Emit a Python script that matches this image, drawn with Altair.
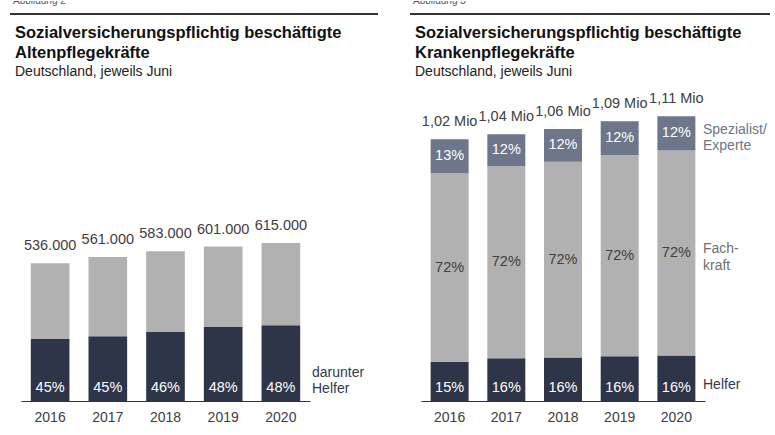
import altair as alt
import pandas as pd

FONT = "Liberation Sans, Arial, sans-serif"
NAVY = "#2e3549"
GRAY = "#b1b1b1"
SLATE = "#6d768a"
TEXT = "#404040"

# ---------------- data ----------------
years = ["2016", "2017", "2018", "2019", "2020"]

alten_total = [536000, 561000, 583000, 601000, 615000]
alten_helfer_pct = [45, 45, 46, 48, 48]

kranken_total = [1.02, 1.04, 1.06, 1.09, 1.11]  # Mio
kranken_helfer_pct = [15, 16, 16, 16, 16]
kranken_fach_pct = [72, 72, 72, 72, 72]
kranken_spez_pct = [13, 12, 12, 12, 12]

left_titles = ["Abbildung 2", "Sozialversicherungspflichtig beschäftigte", "Altenpflegekräfte", "Deutschland, jeweils Juni"]
right_titles = ["Abbildung 3", "Sozialversicherungspflichtig beschäftigte", "Krankenpflegekräfte", "Deutschland, jeweils Juni"]


def de_thousands(v):
    return f"{v:,}".replace(",", ".")


def de_mio(v):
    return f"{v:.2f}".replace(".", ",") + " Mio"


# ---------------- tables ----------------
rows = []
for y, t, p in zip(years, alten_total, alten_helfer_pct):
    h = t * p / 100
    rows.append(dict(year=y, seg="Helfer", y0=0, y1=h))
    rows.append(dict(year=y, seg="Rest", y0=h, y1=t))
alten_bars = pd.DataFrame(rows)
alten_tot = pd.DataFrame(dict(year=years, total=alten_total, label=[de_thousands(v) for v in alten_total]))
alten_pct = pd.DataFrame(dict(year=years, base=[0] * 5, label=[f"{p}%" for p in alten_helfer_pct]))

rows = []
for y, t, ph, pf, ps in zip(years, kranken_total, kranken_helfer_pct, kranken_fach_pct, kranken_spez_pct):
    a = t * ph / 100
    b = a + t * pf / 100
    rows.append(dict(year=y, seg="Helfer", y0=0, y1=a, mid=a / 2, label=f"{ph}%"))
    rows.append(dict(year=y, seg="Fachkraft", y0=a, y1=b, mid=(a + b) / 2, label=f"{pf}%"))
    rows.append(dict(year=y, seg="Spezialist", y0=b, y1=t, mid=(b + t) / 2, label=f"{ps}%"))
kranken_bars = pd.DataFrame(rows)
kranken_tot = pd.DataFrame(dict(year=years, total=kranken_total, label=[de_mio(v) for v in kranken_total]))
kranken_pct = kranken_bars.assign(base=0)


def label(txt, x, y, size=14, color=TEXT, weight="normal", baseline="alphabetic", clip=False):
    return alt.Chart(pd.DataFrame({"t": [txt]})).mark_text(
        font=FONT, fontSize=size, color=color, fontWeight=weight,
        baseline=baseline, align="left", clip=clip
    ).encode(text="t:N", x=alt.value(x), y=alt.value(y))


def header(titles, rule_x2):
    rule = alt.Chart(pd.DataFrame({"t": [0]})).mark_rule(color="#333333", strokeWidth=2).encode(
        x=alt.value(10), x2=alt.value(rule_x2), y=alt.value(13))
    return [
        rule,
        label(titles[0], 13, 2.5, size=10, color="#555555", clip=True),
        label(titles[1], 15, 36.5, size=16.5, color="#111111", weight="bold"),
        label(titles[2], 15, 57, size=16.5, color="#111111", weight="bold"),
        label(titles[3], 15, 75, size=14, color="#222222"),
    ]


def xenc(rng):
    return alt.X("year:N", scale=alt.Scale(domain=years, range=rng, paddingInner=0.33, paddingOuter=0.17),
                 axis=alt.Axis(title=None, labelAngle=0, ticks=False, grid=False, domainColor="#333333",
                               domainWidth=1, labelFont=FONT, labelFontSize=14, labelColor=TEXT,
                               labelPadding=9))


# ---------------- left panel ----------------
yl = alt.Scale(domain=[0, 1557000], nice=False, zero=True)
xl = xenc([21, 310])
lb = alt.Chart(alten_bars).mark_bar().encode(
    x=xl,
    y=alt.Y("y1:Q", scale=yl, axis=None),
    y2="y0:Q",
    color=alt.Color("seg:N", scale=alt.Scale(domain=["Helfer", "Rest"], range=[NAVY, GRAY]), legend=None),
)
lt = alt.Chart(alten_tot).mark_text(font=FONT, fontSize=14.5, color=TEXT, baseline="middle", dy=-17).encode(
    x=alt.X("year:N"), y=alt.Y("total:Q", scale=yl, axis=None), text="label:N")
lp = alt.Chart(alten_pct).mark_text(font=FONT, fontSize=14.5, color="white", baseline="middle", dy=-13).encode(
    x=alt.X("year:N"), y=alt.Y("base:Q", scale=yl, axis=None), text="label:N")
left = alt.layer(
    lb, lt, lp,
    label("darunter", 312, 372, color="#353a4a", baseline="middle"),
    label("Helfer", 312, 387.5, color="#353a4a", baseline="middle"),
    *header(left_titles, 378),
).properties(width=390, height=400)

# ---------------- right panel ----------------
yr = alt.Scale(domain=[0, 1.559], nice=False, zero=True)
xr = xenc([21, 305])
rb = alt.Chart(kranken_bars).mark_bar().encode(
    x=xr,
    y=alt.Y("y1:Q", scale=yr, axis=None),
    y2="y0:Q",
    color=alt.Color("seg:N", scale=alt.Scale(domain=["Helfer", "Fachkraft", "Spezialist"],
                                             range=[NAVY, GRAY, SLATE]), legend=None),
)
rt = alt.Chart(kranken_tot).mark_text(font=FONT, fontSize=14.5, color=TEXT, baseline="middle", dy=-17).encode(
    x=alt.X("year:N"), y=alt.Y("total:Q", scale=yr, axis=None), text="label:N")
rp_f = alt.Chart(kranken_pct).transform_filter("datum.seg == 'Fachkraft'").mark_text(
    font=FONT, fontSize=14.5, baseline="middle", color=TEXT).encode(
    x=alt.X("year:N"), y=alt.Y("mid:Q", scale=yr, axis=None), text="label:N")
rp_s = alt.Chart(kranken_pct).transform_filter("datum.seg == 'Spezialist'").mark_text(
    font=FONT, fontSize=14.5, baseline="middle", color="white").encode(
    x=alt.X("year:N"), y=alt.Y("mid:Q", scale=yr, axis=None), text="label:N")
rp_h = alt.Chart(kranken_pct).transform_filter("datum.seg == 'Helfer'").mark_text(
    font=FONT, fontSize=14.5, color="white", baseline="middle", dy=-13).encode(
    x=alt.X("year:N"), y=alt.Y("base:Q", scale=yr, axis=None), text="label:N")
right = alt.layer(
    rb, rt, rp_f, rp_s, rp_h,
    label("Spezialist/", 303, 129, color=SLATE, baseline="middle"),
    label("Experte", 303, 145, color=SLATE, baseline="middle"),
    label("Fach-", 303, 248, color="#707070", baseline="middle"),
    label("kraft", 303, 265, color="#707070", baseline="middle"),
    label("Helfer", 303, 384, color="#353a4a", baseline="middle"),
    *header(right_titles, 370),
).properties(width=375, height=400)

chart = alt.hconcat(left, right, spacing=10, bounds="flush").resolve_scale(
    x="independent", y="independent", color="independent"
).properties(padding={"top": 1, "left": 0, "right": 0, "bottom": 0}, background="white").configure_view(
    strokeWidth=0, stroke="transparent")

chart.save("out.html", embed_options={"renderer": "svg", "actions": False})
